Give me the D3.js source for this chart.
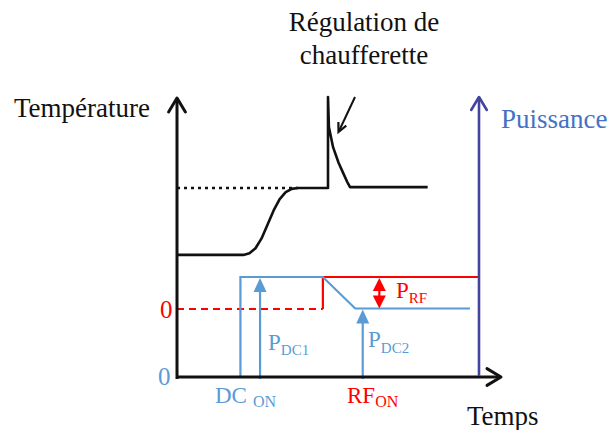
<!DOCTYPE html>
<html><head><meta charset="utf-8">
<script src="https://cdn.jsdelivr.net/npm/d3@7"></script>
<style>body{margin:0;background:#fff}svg{display:block}</style>
</head><body>
<script>
// time axis (arbitrary units)
const tDomain = [0, 100];
// temperature curve (time, temperature)
const tempTime  = [0, 22, 24, 26, 28, 30, 32, 34, 36, 38, 40, 50, 50, 50.3, 51.7, 53.5, 55, 56.3, 57.3, 83];
const tempValue = [43.6, 43.6, 44.2, 46, 49.5, 54.5, 59.5, 63.5, 66, 67.2, 67.5, 67.5, 100, 89.3, 82, 76.5, 72.9, 69.8, 67.8, 67.8];
const tempSetpoint = 67.5;
// power series
const dcTime  = [21, 21, 48.3, 59, 97];
const dcPower = [0, 100, 100, 68.5, 68.5];
const rfTime  = [48.3, 48.3, 100];
const rfPower = [68, 100, 100];
const rfZero = 68;
const events = {dcOn: 21, pdc1: 27.5, rfOn: 48.3, pdc2: 61.5, prf: 67};
const pDC1 = 100, pDC2 = 68.5, pRFtop = 100;

const FONT = '"Liberation Serif", Tinos, "Times New Roman", Times, "DejaVu Serif", serif';
const W = 614, H = 430;
const svg = d3.select("body").append("svg").attr("width", W).attr("height", H);
const x = d3.scaleLinear().domain(tDomain).range([177, 479]);
const yT = d3.scaleLinear().domain([0, 100]).range([377, 97]);
const yP = d3.scaleLinear().domain([0, 100]).range([377, 277]);

const blue = "#5b9bd5", red = "#ff0000", dark = "#4343a0";

function chevron(tipX, tipY, dir, color, size, width) {
  const s = size;
  let pts;
  if (dir === "up") pts = [[tipX - s*0.6, tipY + s], [tipX, tipY], [tipX + s*0.6, tipY + s]];
  else pts = [[tipX - s, tipY - s*0.6], [tipX, tipY], [tipX - s, tipY + s*0.6]];
  svg.append("path").attr("d", d3.line()(pts)).attr("fill", "none").attr("stroke", color)
    .attr("stroke-width", width).attr("stroke-linecap", "round").attr("stroke-linejoin", "round");
}
function triUp(tx, ty, color, w, h) {
  svg.append("path").attr("d", d3.line()([[tx, ty], [tx - w/2, ty + h], [tx + w/2, ty + h]]) + "Z").attr("fill", color);
}
function triDown(tx, ty, color, w, h) {
  svg.append("path").attr("d", d3.line()([[tx, ty], [tx - w/2, ty - h], [tx + w/2, ty - h]]) + "Z").attr("fill", color);
}

// dotted setpoint
svg.append("line").attr("x1", x(0)).attr("x2", x(40)).attr("y1", yT(tempSetpoint)).attr("y2", yT(tempSetpoint))
  .attr("stroke", "#111").attr("stroke-width", 2.5).attr("stroke-dasharray", "3,4");

// temperature curve
const tempPts = tempTime.map((t, i) => [x(t), yT(tempValue[i])]);
svg.append("path").attr("d", d3.line()(tempPts)).attr("fill", "none").attr("stroke", "#111")
  .attr("stroke-width", 2.6).attr("stroke-linejoin", "round");

// arrow pointing to spike
svg.append("line").attr("x1", 355).attr("y1", 97).attr("x2", 339).attr("y2", 131).attr("stroke", "#111").attr("stroke-width", 2);
(function(){ const tx = 338.5, ty = 132; const ang = Math.atan2(131-97, 339-355);
  const a1 = ang + Math.PI - 0.45, a2 = ang + Math.PI + 0.45, L = 10;
  svg.append("path").attr("d", d3.line()([[tx + L*Math.cos(a1), ty + L*Math.sin(a1)], [tx, ty], [tx + L*Math.cos(a2), ty + L*Math.sin(a2)]]))
    .attr("fill", "none").attr("stroke", "#111").attr("stroke-width", 2.2); })();

// red dashed zero
svg.append("line").attr("x1", x(0)).attr("x2", x(events.rfOn)).attr("y1", yP(rfZero)).attr("y2", yP(rfZero))
  .attr("stroke", red).attr("stroke-width", 2).attr("stroke-dasharray", "7,5");
// red RF
svg.append("path").attr("d", d3.line()(rfTime.map((t, i) => [x(t), yP(rfPower[i])]))).attr("fill", "none")
  .attr("stroke", red).attr("stroke-width", 2.2);
// blue DC
svg.append("path").attr("d", d3.line()(dcTime.map((t, i) => [x(t), yP(dcPower[i])]))).attr("fill", "none")
  .attr("stroke", blue).attr("stroke-width", 2.2);

// P_DC1 arrow
svg.append("line").attr("x1", x(events.pdc1)).attr("x2", x(events.pdc1)).attr("y1", yP(0) + 2).attr("y2", yP(pDC1) + 12)
  .attr("stroke", blue).attr("stroke-width", 2.2);
triUp(x(events.pdc1), yP(pDC1) + 1, blue, 13, 14);
// P_DC2 arrow
svg.append("line").attr("x1", x(events.pdc2)).attr("x2", x(events.pdc2)).attr("y1", yP(0) + 2).attr("y2", yP(pDC2) + 12)
  .attr("stroke", blue).attr("stroke-width", 2.2);
triUp(x(events.pdc2), yP(pDC2) + 1, blue, 13, 14);
// P_RF double arrow
svg.append("line").attr("x1", x(events.prf)).attr("x2", x(events.prf)).attr("y1", yP(pRFtop) + 8).attr("y2", yP(pDC2) - 8)
  .attr("stroke", red).attr("stroke-width", 2.2);
triUp(x(events.prf), yP(pRFtop) + 1, red, 13, 13);
triDown(x(events.prf), yP(pDC2), red, 13, 13);

// axes
svg.append("line").attr("x1", x(0)).attr("x2", x(0)).attr("y1", 379).attr("y2", 98).attr("stroke", "#111").attr("stroke-width", 3);
chevron(x(0), 98, "up", "#111", 14, 3);
svg.append("line").attr("x1", x(0) - 1).attr("x2", 500).attr("y1", 377).attr("y2", 377).attr("stroke", "#111").attr("stroke-width", 3.2);
chevron(501, 377, "right", "#111", 14, 3);
svg.append("line").attr("x1", x(100)).attr("x2", x(100)).attr("y1", 376).attr("y2", 97).attr("stroke", dark).attr("stroke-width", 2.6);
chevron(x(100), 97, "up", dark, 13, 2.6);

// texts
function txt(s, tx, ty, size, color, anchor) {
  return svg.append("text").attr("x", tx).attr("y", ty).attr("font-size", size).attr("fill", color)
    .attr("font-family", FONT).attr("text-anchor", anchor || "start").text(s);
}
function sub(main, subs, tx, ty, size, subSize, color, dy, gap) {
  const t = svg.append("text").attr("x", tx).attr("y", ty).attr("font-size", size).attr("fill", color)
    .attr("font-family", FONT);
  t.append("tspan").text(main);
  t.append("tspan").attr("font-size", subSize).attr("dy", dy).attr("dx", gap || 0).text(subs);
}
txt("Régulation de", 364, 31, 27, "#111", "middle");
txt("chaufferette", 364, 64, 27, "#111", "middle");
txt("Température", 14, 117, 27, "#111");
txt("Puissance", 501, 128, 27, "#4472c4");
txt("Temps", 467, 425, 27, "#111");
txt("0", 160, 318, 25, red);
txt("0", 158, 385, 25, blue);
sub("DC", "ON", 215, 403, 23, 16, blue, 4, 6);
sub("RF", "ON", 347, 403, 23, 16, red, 4, 0);
sub("P", "DC1", 268, 350, 23, 15, blue, 5, 0);
sub("P", "DC2", 368, 347, 23, 15, blue, 6, 0);
sub("P", "RF", 396, 298, 23, 15, red, 5, 0);
</script>
</body></html>
